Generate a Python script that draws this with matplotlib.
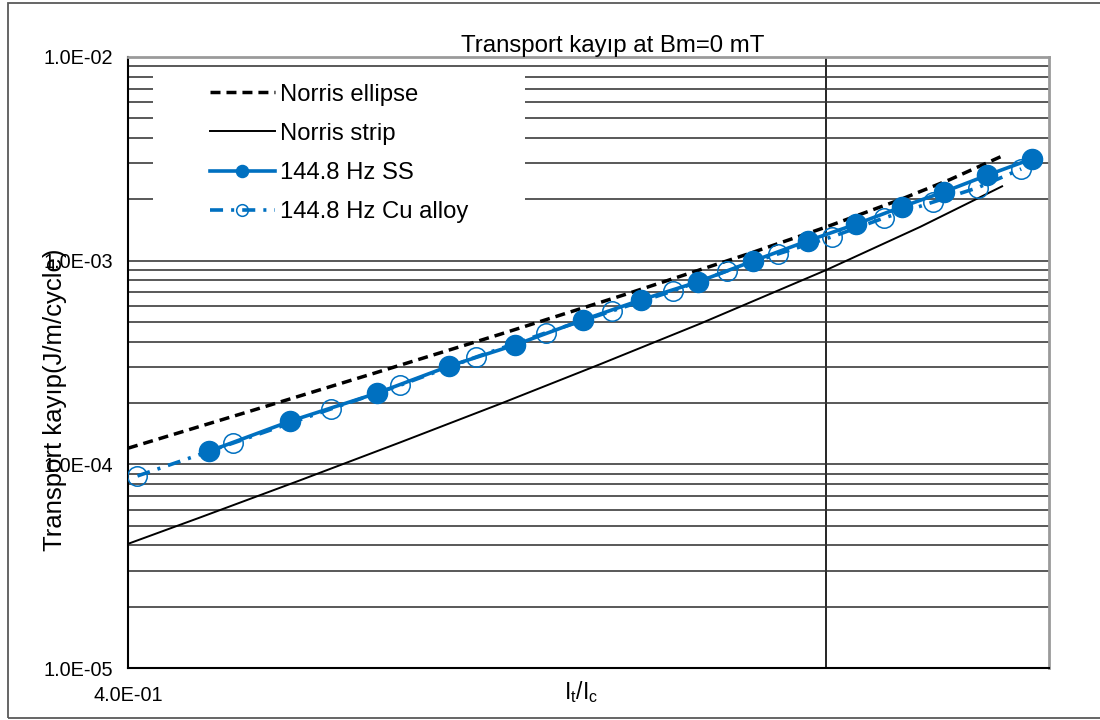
import matplotlib
matplotlib.use("Agg")
import matplotlib.pyplot as plt
from matplotlib.ticker import FixedLocator, FixedFormatter, LogLocator, NullFormatter, NullLocator
from matplotlib.patches import Rectangle

plt.rcParams["font.family"] = ["Liberation Sans", "DejaVu Sans"]
plt.rcParams["lines.scale_dashes"] = False

# ---- data -------------------------------------------------------------
ellipse_x = [0.40, 0.4695, 0.553, 0.652, 0.768, 0.905, 1.0, 1.102, 1.177, 1.260]
ellipse_y = [1.20e-4, 1.824e-4, 2.807e-4, 4.352e-4, 6.817e-4, 1.087e-3, 1.462e-3,
             1.993e-3, 2.504e-3, 3.263e-3]

strip_x = [0.40, 0.4396, 0.5014, 0.5717, 0.652, 0.7433, 0.8477, 1.0, 1.1315, 1.260]
strip_y = [4.07e-5, 5.48e-5, 8.35e-5, 1.281e-4, 1.982e-4, 3.10e-4, 4.905e-4,
           8.99e-4, 1.465e-3, 2.318e-3]

ss_x = [0.445, 0.495, 0.555, 0.610, 0.665, 0.727, 0.784, 0.845, 0.909, 0.976,
        1.040, 1.105, 1.168, 1.236, 1.310]
ss_y = [1.16e-4, 1.63e-4, 2.24e-4, 3.04e-4, 3.86e-4, 5.12e-4, 6.41e-4, 7.86e-4,
        9.97e-4, 1.25e-3, 1.51e-3, 1.84e-3, 2.18e-3, 2.63e-3, 3.16e-3]

cu_x = [0.405, 0.459, 0.522, 0.572, 0.632, 0.692, 0.755, 0.818, 0.878, 0.939,
        1.008, 1.079, 1.151, 1.220, 1.292]
cu_y = [8.77e-5, 1.27e-4, 1.87e-4, 2.45e-4, 3.37e-4, 4.42e-4, 5.66e-4, 7.10e-4,
        8.90e-4, 1.08e-3, 1.31e-3, 1.62e-3, 1.94e-3, 2.28e-3, 2.82e-3]

series_labels = ["Norris ellipse", "Norris strip", "144.8 Hz SS", "144.8 Hz Cu alloy"]
y_major = [1e-5, 1e-4, 1e-3, 1e-2]
y_major_labels = ["1.0E-05", "1.0E-04", "1.0E-03", "1.0E-02"]
x_major = [0.4]
x_major_labels = ["4.0E-01"]

title_text = "Transport kay\u0131p at Bm=0 mT"
ylabel_text = "Transport kay\u0131p(J/m/cycle)"
xlabel_text = r"$\mathregular{I_t/I_c}$"

BLUE = "#0070C0"

# ---- figure -----------------------------------------------------------
W, H = 1100, 720
fig = plt.figure(figsize=(W / 100, H / 100), dpi=100)
fig.patch.set_facecolor("white")

ax = fig.add_axes([128 / W, 1 - 668 / H, (1049 - 128) / W, (668 - 57) / H])
ax.set_xscale("log")
ax.set_yscale("log")
ax.set_xlim(0.4, 1.34)
ax.set_ylim(1e-5, 1e-2)

# ticks
ax.xaxis.set_major_locator(FixedLocator(x_major))
ax.xaxis.set_major_formatter(FixedFormatter(x_major_labels))
ax.xaxis.set_minor_locator(NullLocator())
ax.xaxis.set_minor_formatter(NullFormatter())
ax.yaxis.set_major_locator(FixedLocator(y_major))
ax.yaxis.set_major_formatter(FixedFormatter(y_major_labels))
ax.yaxis.set_minor_locator(LogLocator(base=10, subs=range(2, 10)))
ax.yaxis.set_minor_formatter(NullFormatter())
ax.tick_params(axis="y", which="both", length=0, pad=11, labelsize=14.3)
ax.tick_params(axis="x", which="both", length=0, pad=13, labelsize=14.3)

# horizontal grid, vertical axis crossing at 1.0
ax.yaxis.grid(True, which="both", color="#333333", lw=1.15, zorder=0)
ax.set_axisbelow(True)
ax.axvline(1.0, color="black", lw=1.2, zorder=0.5)

for side in ("left", "bottom"):
    ax.spines[side].set_color("black")
    ax.spines[side].set_linewidth(1.5)
for side in ("top", "right"):
    ax.spines[side].set_color("#9a9a9a")
    ax.spines[side].set_linewidth(2.0)

# white legend background covering the grid
ax.add_patch(Rectangle((25 / 921, 1 - (250 - 57) / 611), (397 - 25) / 921,
                       (250 - 70) / 611, transform=ax.transAxes,
                       facecolor="white", edgecolor="none", zorder=0.8))

# ---- series -----------------------------------------------------------
ax.plot(ellipse_x, ellipse_y, color="black", lw=2.5,
        linestyle=(0, (7.2, 4.3)), label=series_labels[0], zorder=2)
ax.plot(strip_x, strip_y, color="black", lw=1.4, linestyle="-",
        label=series_labels[1], zorder=2)
ax.plot(ss_x, ss_y, color=BLUE, lw=2.6, marker="o", markersize=14.5,
        markerfacecolor=BLUE, markeredgecolor=BLUE, label=series_labels[2], zorder=3)
ax.plot(cu_x, cu_y, color=BLUE, lw=2.6, linestyle=(0, (9.4, 5.8, 2.2, 5.8)),
        marker="o", markersize=14, markerfacecolor="none", markeredgecolor=BLUE,
        markeredgewidth=1.1, label=series_labels[3], zorder=4)

leg = ax.legend(loc="upper left", bbox_to_anchor=(210 / W, 1 - 83.5 / H),
                bbox_transform=fig.transFigure, frameon=False, fontsize=17.2,
                handlelength=2.72, handletextpad=0.21, labelspacing=0.72,
                borderpad=0, borderaxespad=0, markerscale=0.6)
leg.set_zorder(5)

# ---- text -------------------------------------------------------------
fig.text(613 / W, 1 - 52 / H, title_text, ha="center", va="baseline", fontsize=17.3)
fig.text(55 / W, 1 - 400 / H, ylabel_text, rotation=90, ha="center", va="center",
         fontsize=18.5)
fig.text(581 / W, 1 - 692 / H, xlabel_text, ha="center", va="center", fontsize=16.5)

# outer chart border
fig.patches.append(Rectangle((8 / W, 1 - 718 / H), 1.2, (718 - 3) / H,
                             transform=fig.transFigure, facecolor="none",
                             edgecolor="#595959", lw=1.3, clip_on=False))

fig.savefig("out.png", dpi=100)
